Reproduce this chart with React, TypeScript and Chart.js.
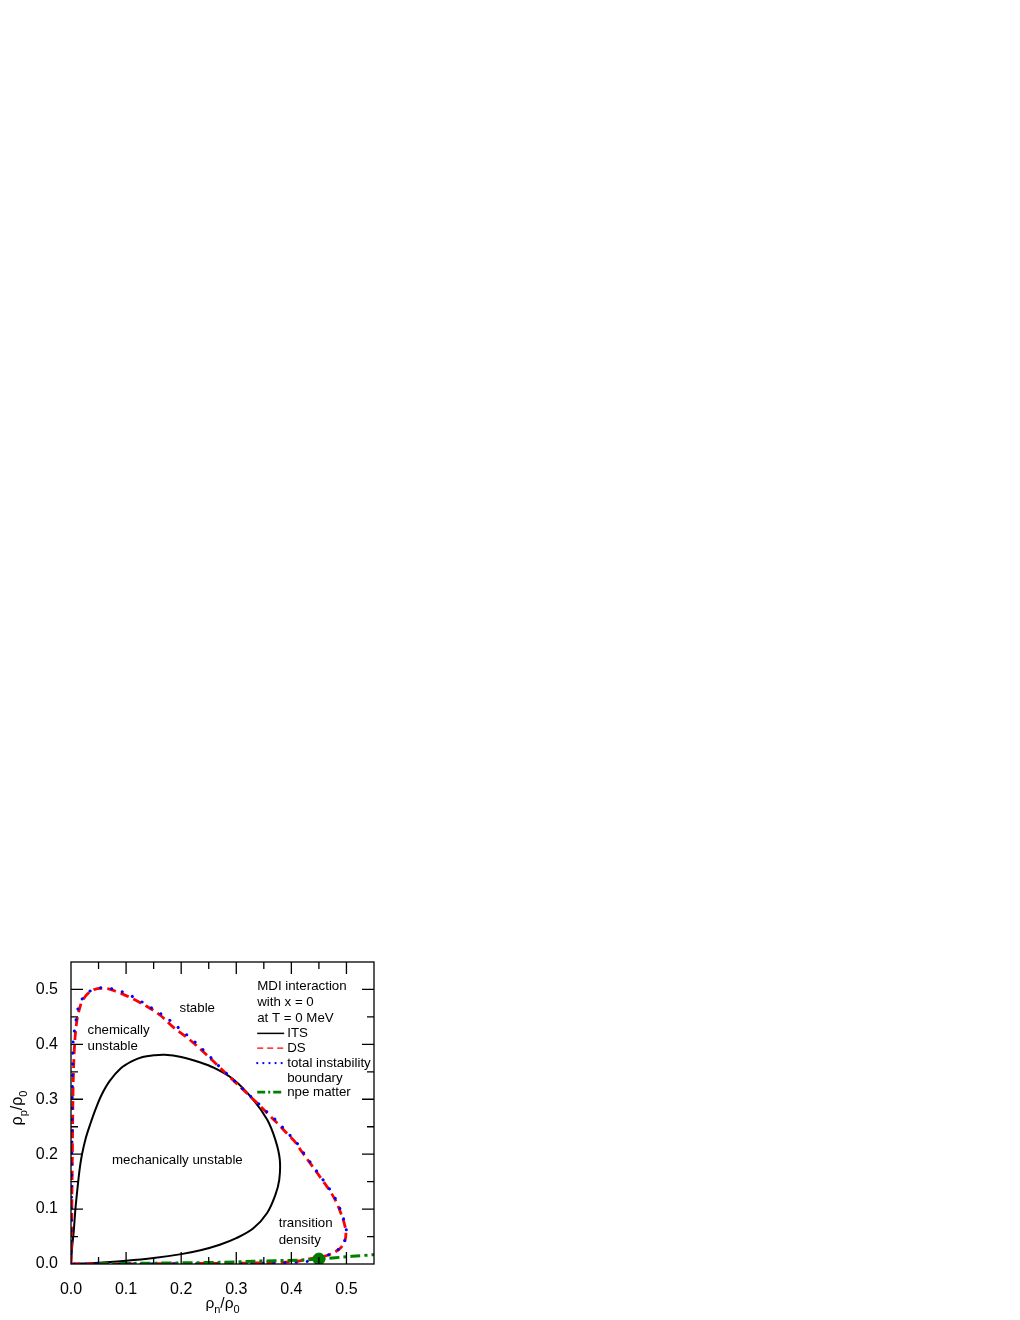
import React, { useEffect, useRef } from "react";
import { Chart, registerables } from "chart.js";

Chart.register(...registerables);

// ---------------- data ----------------
const xTickValues = [0, 0.1, 0.2, 0.3, 0.4, 0.5];
const yTickValues = [0, 0.1, 0.2, 0.3, 0.4, 0.5];
const minorTickValues = [0.05, 0.1, 0.15, 0.2, 0.25, 0.3, 0.35, 0.4, 0.45, 0.5];

const itsX = [0, 0.002, 0.005, 0.008, 0.012, 0.016, 0.02, 0.027, 0.035, 0.045, 0.055, 0.07, 0.09, 0.11, 0.13, 0.15, 0.17, 0.2, 0.235, 0.26, 0.295, 0.331, 0.356, 0.371, 0.379, 0.378, 0.371, 0.356, 0.331, 0.3, 0.27, 0.235, 0.2, 0.15, 0.1, 0.05, 0];
const itsY = [0, 0.03, 0.06, 0.1, 0.14, 0.175, 0.2, 0.23, 0.255, 0.283, 0.307, 0.333, 0.356, 0.369, 0.377, 0.38, 0.381, 0.377, 0.367, 0.357, 0.336, 0.299, 0.263, 0.226, 0.19, 0.153, 0.126, 0.093, 0.065, 0.047, 0.035, 0.025, 0.018, 0.011, 0.006, 0.0025, 0];

const dsX = [0, 0.001, 0.002, 0.003, 0.004, 0.006, 0.009, 0.013, 0.022, 0.04, 0.062, 0.083, 0.108, 0.138, 0.162, 0.186, 0.216, 0.245, 0.272, 0.295, 0.316, 0.335, 0.356, 0.374, 0.389, 0.407, 0.42, 0.436, 0.456, 0.47, 0.481, 0.49, 0.496, 0.499, 0.497, 0.488, 0.466, 0.435, 0.41, 0.38, 0.3, 0.2, 0.1, 0];
const dsY = [0, 0.05, 0.15, 0.25, 0.33, 0.39, 0.43, 0.455, 0.482, 0.499, 0.502, 0.496, 0.485, 0.469, 0.453, 0.431, 0.408, 0.382, 0.356, 0.334, 0.314, 0.296, 0.275, 0.257, 0.241, 0.222, 0.203, 0.181, 0.153, 0.133, 0.114, 0.092, 0.074, 0.058, 0.042, 0.028, 0.016, 0.01, 0.005, 0.003, 0.0015, 0.0008, 0.0003, 0];

const tibX = [0, 0.001, 0.002, 0.003, 0.004, 0.008, 0.013, 0.022, 0.04, 0.062, 0.095, 0.119, 0.145, 0.174, 0.2, 0.222, 0.248, 0.272, 0.296, 0.316, 0.336, 0.357, 0.376, 0.39, 0.408, 0.421, 0.436, 0.457, 0.471, 0.482, 0.491, 0.497, 0.5, 0.497, 0.489, 0.475, 0.45, 0.43, 0.41, 0.3, 0];
const tibY = [0, 0.1, 0.25, 0.35, 0.406, 0.436, 0.466, 0.485, 0.5, 0.503, 0.495, 0.483, 0.467, 0.448, 0.426, 0.407, 0.382, 0.357, 0.334, 0.315, 0.296, 0.276, 0.258, 0.242, 0.223, 0.204, 0.183, 0.154, 0.134, 0.115, 0.093, 0.074, 0.058, 0.043, 0.03, 0.02, 0.011, 0.005, 0.003, 0.001, 0];

const npeX = [0.05, 0.15, 0.27, 0.33, 0.41, 0.45, 0.51, 0.55];
const npeY = [0.0005, 0.0015, 0.003, 0.005, 0.007, 0.009, 0.014, 0.017];

const transitionX = [0.45];
const transitionY = [0.009];

const legendLines = ["MDI interaction", "with x = 0", "at T = 0 MeV"];
const seriesLabels = ["ITS", "DS", "total instability", "npe matter"];

const toPts = (xs: number[], ys: number[]) => xs.map((x, i) => ({ x, y: ys[i] }));

const FONT = "'Liberation Sans', Arial, sans-serif";

function drawSubText(
  ctx: CanvasRenderingContext2D,
  parts: { t: string; sub: boolean }[],
  cx: number,
  cy: number,
  size: number
) {
  const subSize = Math.round(size * 0.7);
  let w = 0;
  for (const p of parts) {
    ctx.font = `${p.sub ? subSize : size}px ${FONT}`;
    w += ctx.measureText(p.t).width;
  }
  let x = cx - w / 2;
  ctx.textBaseline = "alphabetic";
  ctx.textAlign = "left";
  for (const p of parts) {
    ctx.font = `${p.sub ? subSize : size}px ${FONT}`;
    ctx.fillText(p.t, x, cy + (p.sub ? size * 0.3 : 0));
    x += ctx.measureText(p.t).width;
  }
}

const decorPlugin = {
  id: "decor",
  afterDatasetsDraw(chart: any) {
    const { ctx, chartArea } = chart;
    const { left, right, top, bottom } = chartArea;
    const xs = chart.scales.x;
    const ys = chart.scales.y;
    ctx.save();
    ctx.strokeStyle = "#000";
    ctx.lineWidth = 1.3;
    ctx.setLineDash([]);
    ctx.strokeRect(left, top, right - left, bottom - top);
    // inward ticks on all 4 sides
    for (const v of minorTickValues) {
      const major = Math.abs(v * 10 - Math.round(v * 10)) < 1e-6;
      const len = major ? 12 : 7;
      const px = xs.getPixelForValue(v);
      const py = ys.getPixelForValue(v);
      ctx.beginPath();
      ctx.moveTo(px, bottom);
      ctx.lineTo(px, bottom - len);
      ctx.moveTo(px, top);
      ctx.lineTo(px, top + len);
      ctx.moveTo(left, py);
      ctx.lineTo(left + len, py);
      ctx.moveTo(right, py);
      ctx.lineTo(right - len, py);
      ctx.stroke();
    }

    ctx.fillStyle = "#000";
    // axis titles
    drawSubText(
      ctx,
      [
        { t: "ρ", sub: false },
        { t: "n", sub: true },
        { t: "/ρ", sub: false },
        { t: "0", sub: true },
      ],
      (left + right) / 2,
      bottom + 44,
      15.5
    );
    ctx.save();
    ctx.translate(left - 54, (top + bottom) / 2 - 5);
    ctx.rotate(-Math.PI / 2);
    drawSubText(
      ctx,
      [
        { t: "ρ", sub: false },
        { t: "p", sub: true },
        { t: "/ρ", sub: false },
        { t: "0", sub: true },
      ],
      0,
      5,
      16
    );
    ctx.restore();

    // annotations
    ctx.font = `13.3px ${FONT}`;
    ctx.textBaseline = "middle";
    ctx.textAlign = "left";
    const ax = (v: number) => xs.getPixelForValue(v);
    const ay = (v: number) => ys.getPixelForValue(v);
    ctx.fillText("stable", ax(0.197), ay(0.465));
    ctx.fillText("chemically", ax(0.03), ay(0.426));
    ctx.fillText("unstable", ax(0.03), ay(0.396));
    ctx.textAlign = "center";
    ctx.fillText("mechanically unstable", ax(0.193), ay(0.188));
    ctx.textAlign = "left";
    ctx.fillText("transition", ax(0.377), ay(0.074));
    ctx.fillText("density", ax(0.377), ay(0.044));

    // legend
    const lx = ax(0.338);
    const tx = lx + 30;
    const rowY = [0.506, 0.476, 0.447, 0.42, 0.393, 0.366, 0.339, 0.313];
    legendLines.forEach((l, i) => ctx.fillText(l, lx, ay(rowY[i])));
    const samples = [
      { c: "#000000", d: [] as number[], w: 1.5, cap: "butt" },
      { c: "#ff0000", d: [6, 4], w: 1.3, cap: "butt" },
      { c: "#0000ff", d: [0.1, 6], w: 2.2, cap: "round" },
      { c: "#008000", d: [8, 3, 2, 3], w: 2.8, cap: "butt" },
    ];
    const sampleRows = [3, 4, 5, 7];
    seriesLabels.forEach((s, i) => {
      const sm = samples[i];
      const yy = ay(rowY[sampleRows[i]]);
      ctx.strokeStyle = sm.c;
      ctx.lineWidth = sm.w;
      ctx.lineCap = sm.cap;
      ctx.setLineDash(sm.d);
      ctx.beginPath();
      ctx.moveTo(lx, yy);
      ctx.lineTo(lx + 27, yy);
      ctx.stroke();
      ctx.setLineDash([]);
      ctx.lineCap = "butt";
      ctx.fillText(s, tx, yy);
    });
    ctx.fillText("boundary", tx, ay(rowY[6]));
    ctx.restore();
  },
};

export default function App() {
  const ref = useRef<HTMLCanvasElement | null>(null);
  useEffect(() => {
    document.body.style.margin = "0";
    const canvas = ref.current;
    if (!canvas) return;
    const chart = new Chart(canvas, {
      type: "scatter",
      data: {
        datasets: [
          {
            label: "transition density",
            data: toPts(transitionX, transitionY),
            showLine: false,
            pointRadius: 6,
            pointBackgroundColor: "#007a00",
            pointBorderColor: "#007a00",
            order: 0,
          },
          {
            label: "ITS",
            data: toPts(itsX, itsY),
            showLine: true,
            borderColor: "#000000",
            borderWidth: 2,
            pointRadius: 0,
            tension: 0.35,
            order: 4,
          },
          {
            label: "total instability boundary",
            data: toPts(tibX, tibY),
            showLine: true,
            borderColor: "#0000ff",
            borderWidth: 3,
            borderDash: [0.1, 11],
            borderCapStyle: "round",
            pointRadius: 0,
            tension: 0.35,
            order: 2,
          },
          {
            label: "DS",
            data: toPts(dsX, dsY),
            showLine: true,
            borderColor: "#ff0000",
            borderWidth: 2.8,
            borderDash: [9, 5],
            pointRadius: 0,
            tension: 0.35,
            order: 3,
          },
          {
            label: "npe matter",
            data: toPts(npeX, npeY),
            showLine: true,
            borderColor: "#008000",
            borderWidth: 3,
            borderDash: [10, 4, 3, 4],
            pointRadius: 0,
            tension: 0.3,
            order: 1,
          },
        ],
      },
      options: {
        animation: false,
        responsive: false,
        devicePixelRatio: 1,
        layout: { padding: { left: 0, top: 962, right: 646, bottom: 0 } },
        plugins: { legend: { display: false }, tooltip: { enabled: false } },
        scales: {
          x: {
            type: "linear",
            min: 0,
            max: 0.55,
            grid: { display: false, drawTicks: false },
            border: { display: false },
            afterBuildTicks: (s: any) => {
              s.ticks = xTickValues.map((v) => ({ value: v }));
            },
            afterFit: (s: any) => {
              s.height = 56;
            },
            ticks: {
              padding: 16,
              color: "#000",
              font: { family: FONT, size: 16 },
              callback: (v: any) => Number(v).toFixed(1),
              maxRotation: 0,
            },
          },
          y: {
            type: "linear",
            min: 0,
            max: 0.55,
            grid: { display: false, drawTicks: false },
            border: { display: false },
            afterBuildTicks: (s: any) => {
              s.ticks = yTickValues.map((v) => ({ value: v }));
            },
            afterFit: (s: any) => {
              s.width = 71;
            },
            ticks: {
              padding: 13,
              color: "#000",
              font: { family: FONT, size: 16 },
              callback: (v: any) => Number(v).toFixed(1),
            },
          },
        },
      },
      plugins: [decorPlugin],
    });
    return () => chart.destroy();
  }, []);
  return (
    <div style={{ width: 1020, height: 1320, position: "relative", background: "#fff" }}>
      <canvas ref={ref} width={1020} height={1320} style={{ width: 1020, height: 1320, display: "block" }} />
    </div>
  );
}
